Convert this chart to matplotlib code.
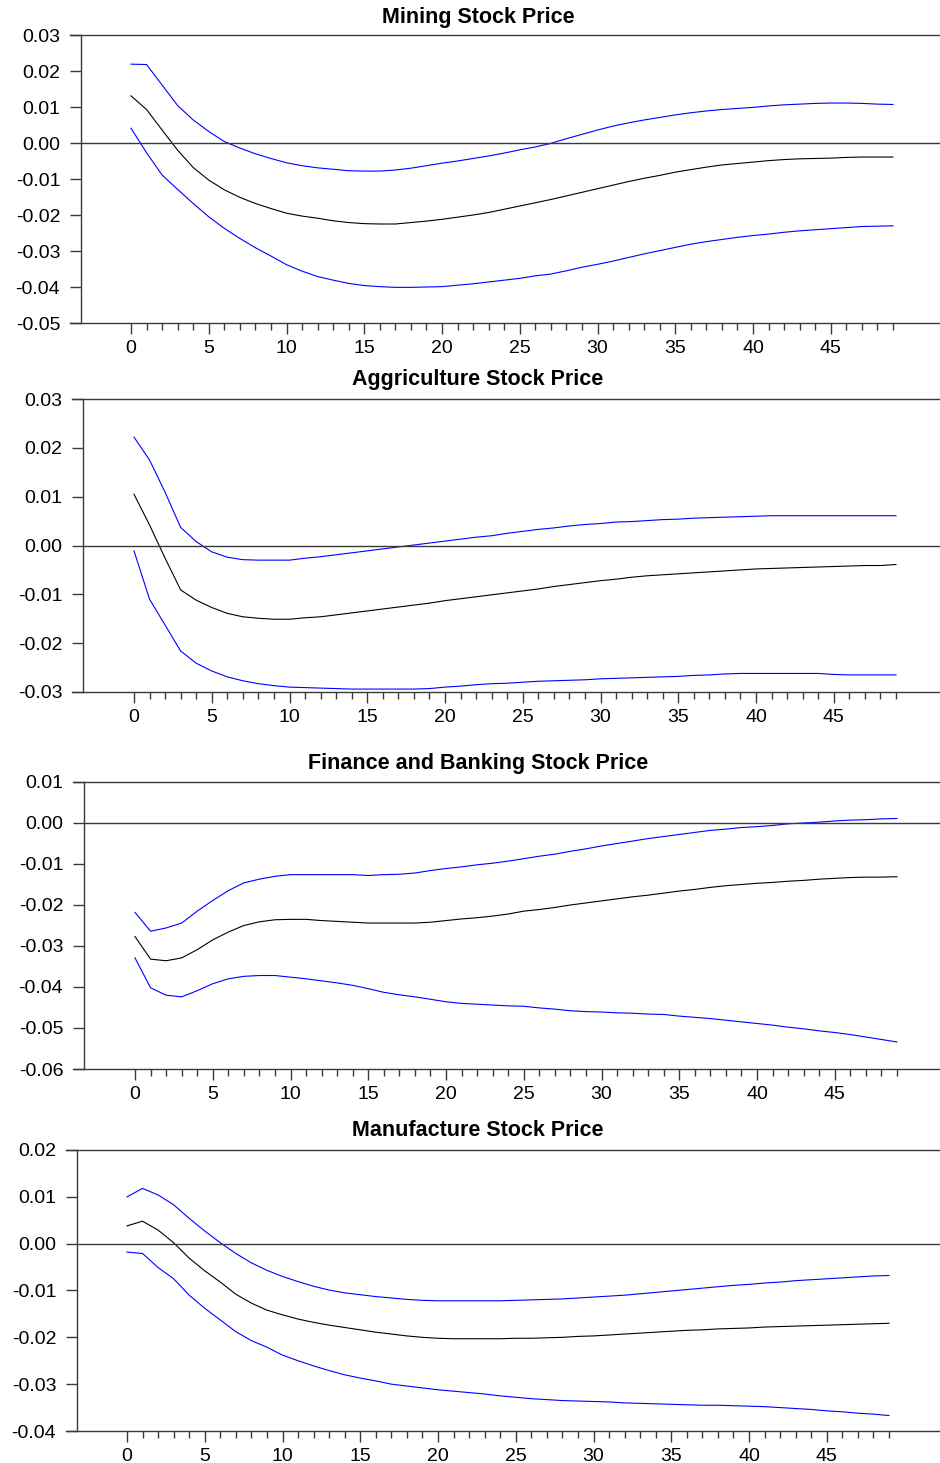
import numpy as np
import matplotlib
matplotlib.use("Agg")
import matplotlib.pyplot as plt
from matplotlib.ticker import MultipleLocator, FuncFormatter

plt.rcParams['font.family'] = ['Liberation Sans', 'DejaVu Sans']

# horizon 0..49
steps = np.arange(50)

titles = ["Mining Stock Price", "Aggriculture Stock Price",
          "Finance and Banking Stock Price", "Manufacture Stock Price"]

# Mining
mining_up = [0.0219, 0.0218, 0.0161, 0.0104, 0.0064, 0.0032, 0.0004, -0.0014, -0.0030, -0.0043,
             -0.0055, -0.0063, -0.0069, -0.0073, -0.0077, -0.0078, -0.0078, -0.0075, -0.0070, -0.0063,
             -0.0056, -0.0050, -0.0043, -0.0036, -0.0028, -0.0019, -0.0011, -0.0001, 0.0012, 0.0024,
             0.0036, 0.0047, 0.0056, 0.0064, 0.0071, 0.0078, 0.0084, 0.0089, 0.0093, 0.0096,
             0.0099, 0.0103, 0.0106, 0.0108, 0.0110, 0.0111, 0.0111, 0.0110, 0.0108, 0.0107]
mining_mid = [0.0131, 0.0093, 0.0036, -0.0020, -0.0068, -0.0103, -0.0130, -0.0151, -0.0168, -0.0182,
              -0.0195, -0.0203, -0.0209, -0.0216, -0.0221, -0.0224, -0.0225, -0.0225, -0.0221, -0.0217,
              -0.0212, -0.0206, -0.0200, -0.0193, -0.0184, -0.0175, -0.0166, -0.0157, -0.0147, -0.0137,
              -0.0127, -0.0117, -0.0107, -0.0098, -0.0090, -0.0081, -0.0074, -0.0067, -0.0061, -0.0057,
              -0.0053, -0.0049, -0.0046, -0.0044, -0.0043, -0.0042, -0.0040, -0.0039, -0.0039, -0.0039]
mining_lo = [0.0041, -0.0027, -0.0089, -0.0129, -0.0168, -0.0205, -0.0237, -0.0265, -0.0291, -0.0314,
             -0.0338, -0.0356, -0.0371, -0.0381, -0.0390, -0.0396, -0.0399, -0.0401, -0.0401, -0.0400,
             -0.0399, -0.0395, -0.0391, -0.0386, -0.0381, -0.0376, -0.0369, -0.0364, -0.0355, -0.0345,
             -0.0337, -0.0328, -0.0318, -0.0308, -0.0299, -0.0290, -0.0281, -0.0274, -0.0268, -0.0262,
             -0.0257, -0.0253, -0.0248, -0.0244, -0.0241, -0.0238, -0.0235, -0.0232, -0.0231, -0.0230]

# Agriculture
agri_up = [0.0222, 0.0175, 0.0109, 0.0037, 0.0008, -0.0013, -0.0024, -0.0029, -0.0030, -0.0030,
           -0.0030, -0.0026, -0.0023, -0.0019, -0.0015, -0.0011, -0.0007, -0.0003, 0.0001, 0.0005,
           0.0009, 0.0013, 0.0017, 0.0020, 0.0025, 0.0029, 0.0033, 0.0036, 0.0040, 0.0043,
           0.0045, 0.0048, 0.0049, 0.0051, 0.0053, 0.0054, 0.0056, 0.0057, 0.0058, 0.0059,
           0.0060, 0.0061, 0.0061, 0.0061, 0.0061, 0.0061, 0.0061, 0.0061, 0.0061, 0.0061]
agri_mid = [0.0105, 0.0042, -0.0026, -0.0091, -0.0112, -0.0127, -0.0139, -0.0146, -0.0149, -0.0151,
            -0.0151, -0.0148, -0.0146, -0.0142, -0.0138, -0.0134, -0.0130, -0.0126, -0.0122, -0.0118,
            -0.0113, -0.0109, -0.0105, -0.0101, -0.0097, -0.0093, -0.0089, -0.0084, -0.0080, -0.0076,
            -0.0072, -0.0069, -0.0065, -0.0062, -0.0060, -0.0058, -0.0056, -0.0054, -0.0052, -0.0050,
            -0.0048, -0.0047, -0.0046, -0.0045, -0.0044, -0.0043, -0.0042, -0.0041, -0.0041, -0.0039]
agri_lo = [-0.0011, -0.0110, -0.0163, -0.0216, -0.0241, -0.0257, -0.0269, -0.0277, -0.0283, -0.0287,
           -0.0290, -0.0291, -0.0292, -0.0293, -0.0294, -0.0294, -0.0294, -0.0294, -0.0294, -0.0293,
           -0.0290, -0.0288, -0.0285, -0.0283, -0.0282, -0.0280, -0.0278, -0.0277, -0.0276, -0.0275,
           -0.0273, -0.0272, -0.0271, -0.0270, -0.0269, -0.0268, -0.0266, -0.0265, -0.0263, -0.0262,
           -0.0262, -0.0262, -0.0262, -0.0262, -0.0262, -0.0264, -0.0265, -0.0265, -0.0265, -0.0265]

# Finance and banking
fin_up = [-0.0218, -0.0264, -0.0256, -0.0244, -0.0215, -0.0189, -0.0165, -0.0146, -0.0137, -0.0130,
          -0.0126, -0.0126, -0.0126, -0.0126, -0.0126, -0.0128, -0.0126, -0.0125, -0.0122, -0.0116,
          -0.0111, -0.0107, -0.0102, -0.0098, -0.0093, -0.0087, -0.0081, -0.0076, -0.0069, -0.0063,
          -0.0056, -0.0050, -0.0044, -0.0038, -0.0033, -0.0028, -0.0023, -0.0018, -0.0015, -0.0011,
          -0.0009, -0.0006, -0.0002, 0.0000, 0.0002, 0.0005, 0.0007, 0.0008, 0.0010, 0.0011]
fin_mid = [-0.0277, -0.0332, -0.0336, -0.0329, -0.0309, -0.0285, -0.0266, -0.0250, -0.0241, -0.0236,
           -0.0235, -0.0235, -0.0238, -0.0240, -0.0242, -0.0244, -0.0244, -0.0244, -0.0244, -0.0242,
           -0.0238, -0.0234, -0.0231, -0.0227, -0.0222, -0.0215, -0.0211, -0.0206, -0.0200, -0.0195,
           -0.0190, -0.0185, -0.0180, -0.0176, -0.0171, -0.0166, -0.0162, -0.0157, -0.0153, -0.0150,
           -0.0147, -0.0145, -0.0142, -0.0140, -0.0137, -0.0135, -0.0133, -0.0132, -0.0132, -0.0131]
fin_lo = [-0.0329, -0.0402, -0.0420, -0.0424, -0.0409, -0.0392, -0.0380, -0.0374, -0.0372, -0.0372,
          -0.0376, -0.0380, -0.0385, -0.0390, -0.0396, -0.0404, -0.0413, -0.0419, -0.0424, -0.0430,
          -0.0436, -0.0440, -0.0442, -0.0444, -0.0446, -0.0447, -0.0451, -0.0454, -0.0458, -0.0460,
          -0.0461, -0.0463, -0.0464, -0.0466, -0.0467, -0.0471, -0.0474, -0.0477, -0.0481, -0.0485,
          -0.0489, -0.0493, -0.0498, -0.0502, -0.0507, -0.0511, -0.0516, -0.0522, -0.0528, -0.0534]

# Manufacture
manu_up = [0.0100, 0.0118, 0.0104, 0.0083, 0.0054, 0.0027, 0.0002, -0.0021, -0.0041, -0.0057,
           -0.0070, -0.0081, -0.0091, -0.0099, -0.0105, -0.0109, -0.0113, -0.0116, -0.0119, -0.0121,
           -0.0122, -0.0122, -0.0122, -0.0122, -0.0122, -0.0121, -0.0120, -0.0119, -0.0118, -0.0116,
           -0.0114, -0.0112, -0.0110, -0.0107, -0.0104, -0.0101, -0.0098, -0.0095, -0.0092, -0.0089,
           -0.0087, -0.0084, -0.0082, -0.0079, -0.0077, -0.0075, -0.0073, -0.0071, -0.0069, -0.0068]
manu_mid = [0.0038, 0.0048, 0.0029, 0.0002, -0.0031, -0.0058, -0.0082, -0.0108, -0.0127, -0.0142,
            -0.0152, -0.0161, -0.0168, -0.0174, -0.0179, -0.0184, -0.0189, -0.0193, -0.0197, -0.0200,
            -0.0202, -0.0203, -0.0203, -0.0203, -0.0203, -0.0202, -0.0202, -0.0201, -0.0200, -0.0198,
            -0.0197, -0.0195, -0.0193, -0.0191, -0.0189, -0.0187, -0.0185, -0.0184, -0.0182, -0.0181,
            -0.0180, -0.0178, -0.0177, -0.0176, -0.0175, -0.0174, -0.0173, -0.0172, -0.0171, -0.0170]
manu_lo = [-0.0018, -0.0021, -0.0051, -0.0075, -0.0110, -0.0138, -0.0163, -0.0188, -0.0207, -0.0221,
           -0.0238, -0.0250, -0.0261, -0.0271, -0.0280, -0.0287, -0.0293, -0.0300, -0.0304, -0.0308,
           -0.0312, -0.0315, -0.0318, -0.0321, -0.0325, -0.0328, -0.0331, -0.0333, -0.0335, -0.0336,
           -0.0337, -0.0338, -0.0340, -0.0341, -0.0342, -0.0343, -0.0344, -0.0345, -0.0345, -0.0346,
           -0.0347, -0.0348, -0.0350, -0.0352, -0.0354, -0.0357, -0.0359, -0.0362, -0.0364, -0.0367]

series = [(mining_up, mining_mid, mining_lo),
          (agri_up, agri_mid, agri_lo),
          (fin_up, fin_mid, fin_lo),
          (manu_up, manu_mid, manu_lo)]
ylims = [(-0.05, 0.03), (-0.03, 0.03), (-0.06, 0.01), (-0.04, 0.02)]

# layout in pixels: left spine, top, bottom, pixel of x=0, title y
W, H = 940, 1463
boxes = [(81, 35, 323, 131, 18),
         (83, 399, 692, 134, 380),
         (84, 782, 1069, 135, 764),
         (77, 1150, 1431, 127, 1131)]
px_per_step = 15.55
spine_col = '#3a3a3a'


def fmt(v, pos):
    v = round(v, 4)
    if abs(v) < 1e-9:
        v = 0.0
    return '%.2f' % v


fig = plt.figure(figsize=(W / 100, H / 100), dpi=100)

for i in range(4):
    left, top, bot, x0, ty = boxes[i]
    ax = fig.add_axes([left / W, 1 - bot / H, (W - left) / W, (bot - top) / H])
    up, mid, lo = series[i]
    ax.plot(steps, up, color='#0000ff', lw=0.8)
    ax.plot(steps, mid, color='black', lw=0.8)
    ax.plot(steps, lo, color='#0000ff', lw=0.8)
    ax.axhline(0, color=spine_col, lw=1)

    xmin = -(x0 - left) / px_per_step
    ax.set_xlim(xmin, xmin + (W - left) / px_per_step)
    ax.set_ylim(*ylims[i])

    for s in ['top', 'right', 'bottom']:
        ax.spines[s].set_visible(False)
    ax.spines['left'].set_color(spine_col)
    ax.spines['left'].set_linewidth(1)
    ext = -11 / (W - left)
    for yy in (0, 1):
        ax.plot([ext, 1], [yy, yy], transform=ax.transAxes, color=spine_col,
                lw=1, clip_on=False)

    ax.set_xticks(np.arange(0, 50, 5))
    ax.set_xticks([k for k in range(50) if k % 5 != 0], minor=True)
    ax.yaxis.set_major_locator(MultipleLocator(0.01))
    ax.yaxis.set_major_formatter(FuncFormatter(fmt))
    ax.tick_params(axis='x', which='major', direction='out', length=8, width=1,
                   color=spine_col, labelsize=14, pad=4)
    ax.tick_params(axis='x', which='minor', direction='out', length=5, width=1,
                   color=spine_col)
    ax.tick_params(axis='y', direction='out', length=8, width=1, color=spine_col,
                   labelsize=14, pad=7)

    fig.text(478 / W, 1 - ty / H, titles[i], ha='center', va='center',
             fontsize=15.5, fontweight='bold')

fig.savefig('out.png', dpi=100)
